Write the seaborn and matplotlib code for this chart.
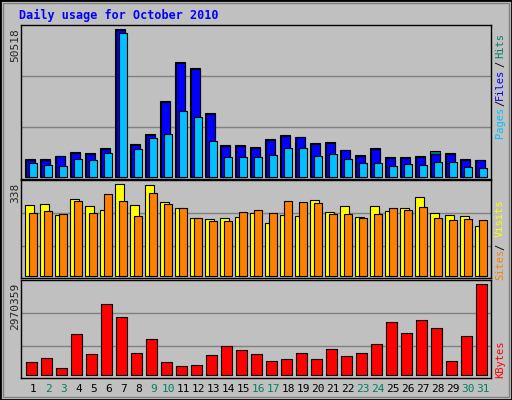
import numpy as np
import matplotlib
matplotlib.use("Agg")
import matplotlib.pyplot as plt
import seaborn as sns
from matplotlib.patches import Rectangle

days = list(range(1, 32))
weekend = [2, 3, 9, 10, 16, 17, 23, 24, 30, 31]
S = 50518 / 442.0
hits = [(470 - v) * S for v in [418,418,409,397,400,385,28,373,343,244,127,145,280,376,376,382,358,346,352,370,367,391,406,385,412,412,409,394,400,418,421]]
files = [(470 - v) * S for v in [421,421,409,400,403,388,31,376,346,247,130,148,283,379,379,385,361,349,352,373,370,391,409,388,415,415,412,403,403,421,421]]
pages = [(470 - v) * S for v in [430,436,439,418,421,400,40,388,355,343,274,292,364,412,412,412,406,385,385,409,403,418,430,430,439,433,436,427,427,442,445]]
V = 338 / 276.0
sites = [(304 - v) * V for v in [91,88,121,73,94,106,28,91,31,82,100,130,133,130,127,115,145,121,124,76,112,94,127,94,109,100,67,115,121,124,154]]
visits = [(304 - v) * V for v in [115,109,118,79,115,58,79,124,55,88,100,130,139,139,112,106,115,79,82,85,118,118,130,118,100,106,97,130,136,133,136]]
K = 2970359 / 273.0
kbytes = [(601 - v) * K for v in [562,550,580,478,538,388,427,535,493,562,574,571,541,514,526,538,559,553,535,553,521,544,535,508,442,475,436,460,559,484,328]]

sns.set_style("white")
plt.rcParams['font.family'] = ['DejaVu Sans Mono']
BG = "#c0c0c0"
fig = plt.figure(figsize=(5.12, 4.0), dpi=100, facecolor=BG)
W, H = 512, 400

def mkax(top, bottom):
    ax = fig.add_axes([20.7/W, 1 - bottom/H, 470/W, (bottom - top)/H])
    ax.set_facecolor(BG)
    ax.set_xlim(0.31, 31.64)
    for s in ax.spines.values():
        s.set_color("black"); s.set_linewidth(1)
    ax.set_xticks([]); ax.set_yticks([])
    return ax

def setlim(ax, vmax, top, bottom, base, maxpx):
    u = vmax / (base - maxpx)
    ax.set_ylim(-(bottom - base) * u, vmax + (maxpx - top) * u)
    lo, hi = ax.get_ylim()
    for f in (1/3, 2/3):
        ax.axhline(lo + (hi - lo) * f, color="#808080", lw=1, zorder=0)

x = np.array(days, dtype=float)
ek = dict(edgecolor="black", linewidth=0.8, align="edge")

ax1 = mkax(24.7, 178.7)
setlim(ax1, 50518, 24.7, 178.7, 176.7, 29.3)
ax1.bar(x - 0.38, hits, width=0.62, color="#008060", **ek)
ax1.bar(x - 0.31, files, width=0.55, color="#0000ff", **ek)
ax1.bar(x - 0.11, pages, width=0.49, color="#00c0ff", **ek)

ax2 = mkax(180.3, 278.3)
setlim(ax2, 338, 180.3, 278.3, 276.3, 184.3)
ax2.bar(x - 0.38, sites, width=0.58, color="#ffff00", **ek)
ax2.bar(x - 0.11, visits, width=0.49, color="#ff8000", **ek)

ax3 = mkax(280.3, 378.3)
setlim(ax3, 2970359, 280.3, 378.3, 375.3, 284.3)
ax3.bar(x - 0.31, kbytes, width=0.69, color="#ff0000", **ek)

for d in days:
    fig.text((100 + (d - 1) * 45) / 3 / W, 1 - 389/H, str(d),
             ha="center", va="center", fontsize=8,
             color="#008060" if d in weekend else "black")

fig.text(19/W, 1 - 15/H, "Daily usage for October 2010", color="#0000ff",
         fontsize=8.5, fontweight="bold", va="center")
for s, y in [("50518", 28), ("338", 183), ("2970359", 283)]:
    fig.text(15/W, 1 - y/H, s, rotation=90, ha="center", va="top", fontsize=8)

def rl(s, y, c):
    fig.text(500/W, 1 - y/H, s, rotation=90, ha="center", va="center", fontsize=7.5, color=c)
rl("Pages", 122, "#00c0ff"); rl("/", 103, "black"); rl("Files", 84, "#0000ff")
rl("/", 64, "black"); rl("Hits", 45, "#008060")
rl("Sites", 264, "#ff8000"); rl("/", 247, "black"); rl("Visits", 218, "#ffff00")
rl("KBytes", 359, "#ff0000")

fig.patches.append(Rectangle((0, 0), 1, 1, transform=fig.transFigure,
                             fill=False, edgecolor="black", lw=2))
fig.patches.append(Rectangle((3/W, 3/H), 1 - 6/W, 1 - 6/H, transform=fig.transFigure,
                             fill=False, edgecolor="#808080", lw=1))
fig.savefig("out.png", dpi=100, facecolor=BG)
